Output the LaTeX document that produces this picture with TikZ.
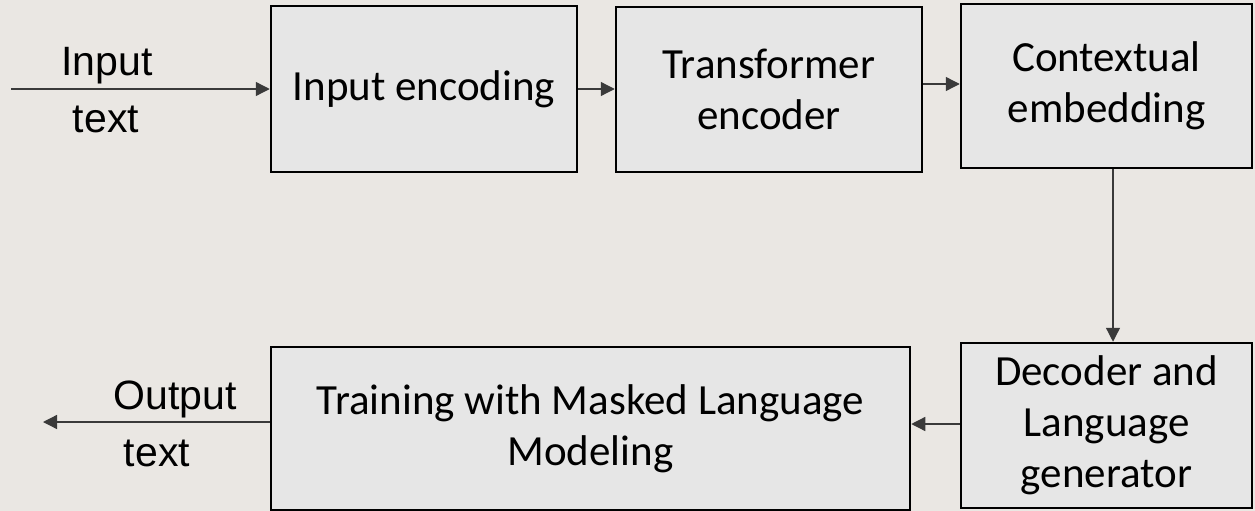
\documentclass[tikz,border=0pt]{standalone}
\usepackage{fontspec}
\setmainfont{Carlito}
\newfontfamily\arialfont{Liberation Sans}
\usetikzlibrary{arrows.meta}
\definecolor{bgc}{HTML}{EAE7E3}
\definecolor{boxc}{HTML}{E6E6E6}
\definecolor{linec}{HTML}{3A3A3A}
\begin{document}
\begin{tikzpicture}[x=1pt,y=-1pt,
  blk/.style={draw=black,line width=2.5pt,fill=boxc,inner sep=0pt,align=center,
    font=\fontsize{43}{51}\selectfont},
  arr/.style={draw=linec,line width=1.3pt,-{Triangle[length=14pt,width=14pt]}},
  lbl/.style={inner sep=0pt,font=\arialfont\fontsize{41}{57}\selectfont}]
\fill[bgc] (0,0) rectangle (1255,511);
\useasboundingbox (0,0) rectangle (1255,511);
\node[blk,minimum width=306pt,minimum height=166pt] (enc) at (424,89) {Input encoding};
\node[blk,minimum width=306pt,minimum height=165pt] (tra) at (769,89.5) {Transformer\\encoder};
\node[blk,minimum width=291pt,minimum height=164pt] (ctx) at (1106.5,86) {Contextual\\embedding};
\node[blk,minimum width=291pt,minimum height=165pt] (dec) at (1106.5,425.5) {Decoder and\\Language\\generator};
\node[blk,minimum width=639pt,minimum height=163pt] (trn) at (590.5,428.5) {Training with Masked Language\\Modeling};
\coordinate (in) at (11,89);
\coordinate (out) at (43,422);
\node[lbl,anchor=base] (inA) at (107,75) {Input};
\node[lbl,anchor=base] (inB) at (106,132) {text};
\node[lbl,anchor=base] (outA) at (175,409) {Output};
\node[lbl,anchor=base] (outB) at (157,466) {text};
\draw[arr] (in) -- (enc.west|-in);
\draw[arr] (enc.east) -- (tra.west|-enc.east);
\draw[arr] (tra.east|-0,84) -- (ctx.west|-0,84);
\draw[arr] (ctx.south-|1113,0) -- (dec.north-|1113,0);
\draw[arr] (dec.west|-0,424) -- (trn.east|-0,424);
\draw[arr] (trn.west|-out) -- (out);
\end{tikzpicture}
\end{document}
